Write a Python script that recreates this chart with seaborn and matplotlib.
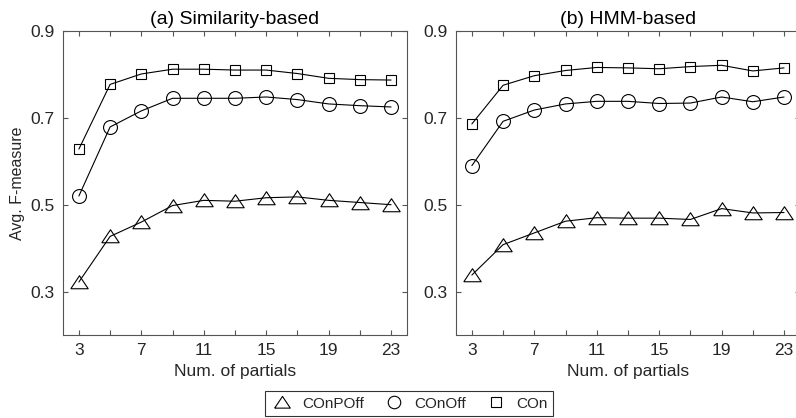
import matplotlib
matplotlib.use("Agg")
import matplotlib.pyplot as plt
from matplotlib.lines import Line2D
import seaborn as sns
import pandas as pd

partials = [3, 5, 7, 9, 11, 13, 15, 17, 19, 21, 23]

sim_conpoff = [0.322, 0.427, 0.460, 0.498, 0.510, 0.508, 0.516, 0.518, 0.510, 0.505, 0.500]
sim_conoff = [0.520, 0.679, 0.716, 0.745, 0.745, 0.745, 0.748, 0.742, 0.732, 0.728, 0.725]
sim_con = [0.628, 0.777, 0.801, 0.812, 0.812, 0.810, 0.810, 0.802, 0.791, 0.788, 0.787]

hmm_conpoff = [0.338, 0.408, 0.435, 0.462, 0.470, 0.469, 0.469, 0.466, 0.491, 0.481, 0.482]
hmm_conoff = [0.590, 0.692, 0.718, 0.732, 0.738, 0.738, 0.733, 0.734, 0.748, 0.737, 0.748]
hmm_con = [0.686, 0.775, 0.797, 0.809, 0.816, 0.815, 0.813, 0.818, 0.821, 0.808, 0.815]

series_names = ["COnPOff", "COnOff", "COn"]
titles = ["(a) Similarity-based", "(b) HMM-based"]
yticks = [0.3, 0.5, 0.7, 0.9]
xtick_labels = ["3", "", "7", "", "11", "", "15", "", "19", "", "23"]

sns.set_theme(style="white")
plt.rcParams["font.family"] = ["Liberation Sans", "DejaVu Sans"]

tri = [(-1, -0.72), (1, -0.72), (0, 0.78), (-1, -0.72)]
markers = {"COnPOff": (tri, 12.5), "COnOff": ("o", 10), "COn": ("s", 7.5)}

panels = [
    {"COnPOff": sim_conpoff, "COnOff": sim_conoff, "COn": sim_con},
    {"COnPOff": hmm_conpoff, "COnOff": hmm_conoff, "COn": hmm_con},
]

fig = plt.figure(figsize=(7.96, 4.18), dpi=100)
ax_pos = [[0.0795, 0.1986, 0.4314, 0.7273], [0.5732, 0.1986, 0.4314, 0.7273]]
spine_col = "#555555"
text_col = "#262626"

for i, pdata in enumerate(panels):
    ax = fig.add_axes(ax_pos[i])
    for name in series_names:
        df = pd.DataFrame({"x": partials, "y": pdata[name]})
        m, ms = markers[name]
        sns.lineplot(data=df, x="x", y="y", ax=ax, color="black", lw=0.8,
                     marker=m, markersize=ms, markerfacecolor="none",
                     markeredgecolor="black", markeredgewidth=0.8)
    ax.set_xlim(2, 24)
    ax.set_ylim(0.2, 0.9)
    ax.set_xticks(partials)
    ax.set_xticklabels(xtick_labels)
    ax.set_yticks(yticks)
    ax.set_yticklabels([f"{v:.1f}" for v in yticks])
    ax.tick_params(direction="in", length=3.5, width=0.8, top=True, right=True,
                   bottom=True, left=True, labelsize=12.5, colors=spine_col,
                   labelcolor=text_col, pad=6)
    for s in ax.spines.values():
        s.set_color(spine_col)
        s.set_linewidth(0.8)
    ax.set_xlabel("Num. of partials", fontsize=12.5, color=text_col, labelpad=4)
    ax.set_ylabel("Avg. F-measure" if i == 0 else "", fontsize=11.5, color=text_col)
    ax.set_title(titles[i], fontsize=14, color="black", pad=5)

handles = [Line2D([], [], linestyle="none", marker=markers[n][0], markersize=markers[n][1] * 0.9,
                  markerfacecolor="none", markeredgecolor="black", markeredgewidth=0.8)
           for n in series_names]
leg = fig.legend(handles, series_names, loc="center", bbox_to_anchor=(0.514, 0.034),
                 ncol=3, fontsize=11, frameon=True, fancybox=False, edgecolor="black",
                 handletextpad=0.6, columnspacing=1.2, borderpad=0.35, handlelength=1.5)
leg.get_frame().set_linewidth(0.8)

fig.savefig("out.png", dpi=100)
